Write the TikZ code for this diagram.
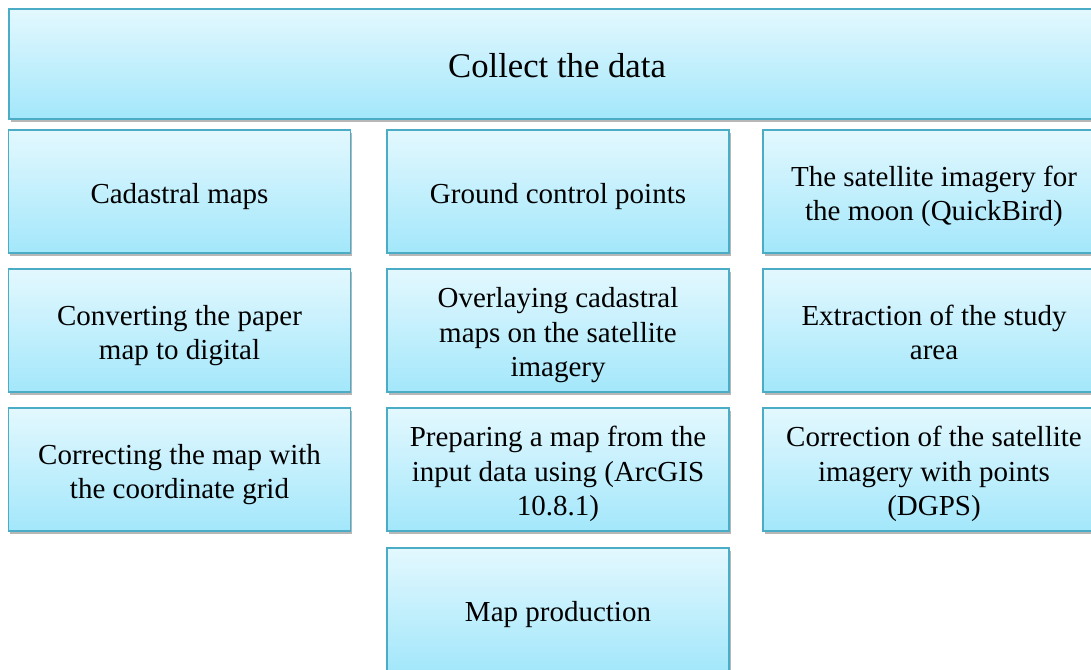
\documentclass[tikz,border=0pt]{standalone}
\usepackage{fontspec}
\setmainfont{Liberation Serif}
\usetikzlibrary{shadows}
\definecolor{topcol}{HTML}{E3F8FE}
\definecolor{botcol}{HTML}{A3E7FB}
\definecolor{bordercol}{HTML}{4BACC6}
\newsavebox\bxtbox
\newcommand\bxt[1]{\sbox\bxtbox{\begin{tabular}{@{}c@{}}#1\end{tabular}}%
  \raisebox{-5pt}[\ht\bxtbox][\dp\bxtbox]{\usebox\bxtbox}}
\tikzset{
  boxstyle/.style={draw=bordercol, line width=1.3pt, top color=topcol, bottom color=botcol,
    drop shadow={shadow xshift=1.5pt, shadow yshift=-3pt, opacity=0.4, fill=black!70},
    minimum width=342pt, minimum height=123pt, inner sep=0pt,
    font=\fontsize{29}{34.5}\selectfont},
  titlestyle/.style={boxstyle, minimum width=1096pt, minimum height=110pt,
    font=\fontsize{34.7}{40}\selectfont}
}
\begin{document}
\begin{tikzpicture}[x=1pt,y=-1pt]
\useasboundingbox (0,0) rectangle (1091,669);
\clip (0,0) rectangle (1091,669);
\node[titlestyle] (top) at (557,64) {\bxt{Collect the data}};
% column 1
\node[boxstyle] (a1) at (179.5,191.5) {\bxt{Cadastral maps}};
\node[boxstyle] (a2) at (179.5,330.5) {\bxt{Converting the paper\\map to digital}};
\node[boxstyle] (a3) at (179.5,469.5) {\bxt{Correcting the map with\\the coordinate grid}};
% column 2
\node[boxstyle] (b1) at (558,191.5) {\bxt{Ground control points}};
\node[boxstyle] (b2) at (558,330.5) {\bxt{Overlaying cadastral\\maps on the satellite\\imagery}};
\node[boxstyle] (b3) at (558,469.5) {\bxt{Preparing a map from the\\input data using (ArcGIS\\10.8.1)}};
\node[boxstyle] (b4) at (558,609.5) {\bxt{Map production}};
% column 3
\node[boxstyle] (c1) at (934,191.5) {\bxt{The satellite imagery for\\the moon (QuickBird)}};
\node[boxstyle] (c2) at (934,330.5) {\bxt{Extraction of the study\\area}};
\node[boxstyle] (c3) at (934,469.5) {\bxt{Correction of the satellite\\imagery with points\\(DGPS)}};
\end{tikzpicture}
\end{document}
